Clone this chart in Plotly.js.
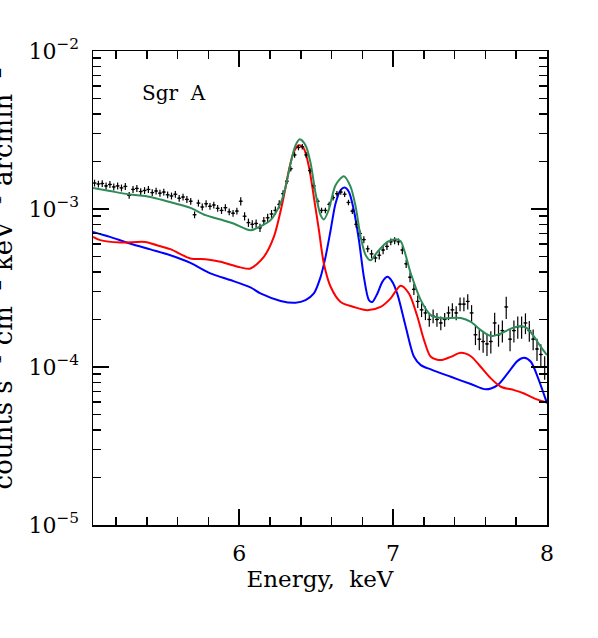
<!DOCTYPE html>
<html>
<head>
<meta charset="utf-8">
<script src="https://cdn.plot.ly/plotly-3.0.1.min.js"></script>
<style>
  body { margin: 0; background: #fff; }
  #chart_div { width: 598px; height: 638px; }
</style>
</head>
<body>
<div id="chart_div"></div>
<script>
// spectrum values are in units of 1e-3 counts s^-1 cm^-2 keV^-1 arcmin^-2
var UNIT = 1e-3;

var data_energy = [
    5.06, 5.085, 5.11, 5.135, 5.16, 5.185, 5.21, 5.235, 5.26, 5.285,
    5.31, 5.335, 5.36, 5.385, 5.41, 5.435, 5.46, 5.485, 5.51, 5.535,
    5.56, 5.585, 5.61, 5.635, 5.66, 5.685, 5.71, 5.735, 5.76, 5.785,
    5.81, 5.835, 5.86, 5.885, 5.91, 5.935, 5.96, 5.985, 6.01, 6.035,
    6.06, 6.085, 6.11, 6.135, 6.16, 6.185, 6.21, 6.235, 6.26, 6.285,
    6.31, 6.335, 6.36, 6.385, 6.41, 6.435, 6.46, 6.485, 6.51, 6.535,
    6.56, 6.585, 6.61, 6.635, 6.66, 6.685, 6.71, 6.735, 6.76, 6.785,
    6.81, 6.835, 6.86, 6.885, 6.91, 6.935, 6.96, 6.985, 7.01, 7.035,
    7.06, 7.085, 7.11, 7.135, 7.16, 7.185, 7.21, 7.235, 7.26, 7.285,
    7.31, 7.335, 7.36, 7.385, 7.41, 7.435, 7.46, 7.485, 7.51, 7.535,
    7.56, 7.585, 7.61, 7.635, 7.66, 7.685, 7.71, 7.735, 7.76, 7.785,
    7.81, 7.835, 7.86, 7.885, 7.91, 7.935, 7.96, 7.985
];
var data_flux = [
    1.46, 1.44, 1.45, 1.40, 1.43, 1.38, 1.40, 1.36, 1.39, 1.22,
    1.33, 1.35, 1.29, 1.31, 1.33, 1.27, 1.30, 1.26, 1.28, 1.23,
    1.21, 1.24, 1.17, 1.19, 1.15, 1.12, 0.92, 1.09, 1.03, 1.08,
    1.04, 1.06, 1.01, 0.98, 1.02, 0.96, 0.94, 0.97, 1.12, 0.90,
    0.82, 0.80, 0.81, 0.76, 0.84, 0.88, 0.93, 0.98, 1.07, 1.25,
    1.50, 1.80, 2.20, 2.45, 2.48, 2.20, 1.75, 1.40, 1.12, 0.98,
    0.98, 1.07, 1.18, 1.25, 1.28, 1.24, 1.10, 0.97, 0.80, 0.70,
    0.64, 0.56, 0.52, 0.49, 0.51, 0.55, 0.58, 0.62, 0.63, 0.62,
    0.55, 0.45, 0.37, 0.31, 0.26, 0.23, 0.22, 0.20, 0.21, 0.20,
    0.19, 0.20, 0.22, 0.23, 0.22, 0.25, 0.25, 0.26, 0.22, 0.16,
    0.15, 0.145, 0.14, 0.145, 0.19, 0.16, 0.17, 0.24, 0.15, 0.17,
    0.18, 0.18, 0.19, 0.17, 0.15, 0.13, 0.12, 0.10
];
// 1-sigma error, percent of the flux
var data_err_pct = [
    5, 5, 5, 5, 5, 5, 5, 5, 5, 5,
    5, 5, 5, 5, 5, 5, 5, 5, 5, 5,
    5, 5, 5, 5, 5, 5, 5, 5, 5, 5,
    5, 5, 5, 5, 5, 5, 5, 5, 6, 6,
    6, 6, 6, 6, 6, 6, 6, 6, 6, 5,
    4, 4, 4, 4, 4, 4, 4, 4, 4, 4,
    4, 4, 4, 4, 4, 4, 4, 4, 5, 5,
    5, 5, 6, 6, 6, 6, 5, 5, 5, 5,
    6, 6, 7, 8, 9, 10, 10, 10, 10, 10,
    10, 10, 10, 10, 10, 10, 10, 11, 12, 14,
    15, 15, 16, 16, 16, 16, 16, 16, 16, 16,
    16, 16, 15, 15, 15, 16, 16, 17
];

var total_energy = [
    5.05, 5.16, 5.29, 5.39, 5.49, 5.585, 5.683, 5.781, 5.878, 5.963,
    6.073, 6.14, 6.204, 6.269, 6.301, 6.334, 6.366, 6.394, 6.431, 6.464,
    6.496, 6.529, 6.55, 6.581, 6.626, 6.68, 6.724, 6.757, 6.789, 6.822,
    6.854, 6.898, 6.963, 7.017, 7.049, 7.114, 7.18, 7.245, 7.31, 7.44,
    7.505, 7.57, 7.635, 7.70, 7.765, 7.83, 7.874, 7.917, 7.96, 8.0
];
var total_flux = [
    1.36, 1.30, 1.235, 1.21, 1.148, 1.083, 1.016, 0.914, 0.858, 0.81,
    0.734, 0.778, 0.85, 1.088, 1.374, 1.95, 2.53, 2.76, 2.53, 1.95,
    1.259, 0.914, 0.858, 0.983, 1.415, 1.612, 1.38, 1.031, 0.666, 0.51,
    0.474, 0.535, 0.619, 0.644, 0.626, 0.393, 0.265, 0.213, 0.204, 0.204,
    0.193, 0.171, 0.157, 0.163, 0.175, 0.182, 0.175, 0.155, 0.134, 0.119
];

var red_energy = [
    5.05, 5.097, 5.228, 5.39, 5.466, 5.553, 5.683, 5.781, 5.878, 6.008,
    6.073, 6.16, 6.225, 6.28, 6.323, 6.355, 6.388, 6.42, 6.453, 6.485,
    6.518, 6.55, 6.594, 6.659, 6.745, 6.833, 6.919, 6.984, 7.049, 7.103,
    7.158, 7.201, 7.245, 7.31, 7.375, 7.44, 7.505, 7.57, 7.635, 7.70,
    7.786, 7.851, 7.917, 8.0
];
var red_flux = [
    0.666, 0.635, 0.614, 0.619, 0.59, 0.557, 0.486, 0.481, 0.463, 0.427,
    0.42, 0.498, 0.666, 1.084, 1.76, 2.30, 2.53, 2.41, 1.85, 1.19,
    0.734, 0.452, 0.322, 0.258, 0.240, 0.229, 0.240, 0.272, 0.327, 0.292,
    0.208, 0.148, 0.116, 0.1106, 0.116, 0.123, 0.117, 0.100, 0.0847, 0.075,
    0.0714, 0.068, 0.0633, 0.0595
];

var blue_energy = [
    5.05, 5.16, 5.29, 5.423, 5.553, 5.683, 5.813, 5.943, 6.073, 6.138,
    6.269, 6.366, 6.431, 6.485, 6.529, 6.561, 6.594, 6.626, 6.659, 6.685,
    6.713, 6.745, 6.778, 6.81, 6.843, 6.865, 6.898, 6.93, 6.963, 6.995,
    7.028, 7.082, 7.136, 7.18, 7.245, 7.375, 7.505, 7.603, 7.679, 7.744,
    7.809, 7.852, 7.895, 7.939, 8.0
];
var blue_flux = [
    0.716, 0.666, 0.605, 0.555, 0.51, 0.456, 0.391, 0.355, 0.319, 0.292,
    0.262, 0.255, 0.265, 0.292, 0.372, 0.498, 0.734, 1.084, 1.315, 1.368,
    1.283, 0.983, 0.635, 0.372, 0.265, 0.258, 0.292, 0.346, 0.372, 0.346,
    0.289, 0.18, 0.116, 0.1028, 0.0966, 0.0867, 0.078, 0.0722, 0.0768, 0.091,
    0.1094, 0.1143, 0.108, 0.0867, 0.059
];

var y_tick_vals = [1e-5, 1e-4, 1e-3, 1e-2];
var y_tick_text = ['10<sup>\u22125</sup>', '10<sup>\u22124</sup>', '10<sup>\u22123</sup>', '10<sup>\u22122</sup>'];

var FONT = 'DejaVu Serif, serif';

function scaled(list)
{
    return list.map(function (v) { return v * UNIT; });
}

function create_model_line(energy, flux, color, name)
{
    return {
        x: energy,
        y: scaled(flux),
        mode: 'lines',
        line: {color: color, width: 2, shape: 'spline', smoothing: 0.8},
        name: name,
        hoverinfo: 'skip'
    };
}

function create_data_trace()
{
    var flux = scaled(data_flux);
    var err = flux.map(function (v, i) { return v * data_err_pct[i] / 100; });
    return {
        x: data_energy,
        y: flux,
        mode: 'markers',
        marker: {color: 'black', size: 2},
        error_y: {type: 'data', array: err, visible: true, color: 'black', thickness: 1.2, width: 0},
        error_x: {type: 'constant', value: 0.0125, visible: true, color: 'black', thickness: 1.2, width: 0},
        name: 'Data'
    };
}

function create_layout()
{
    var axis_common = {
        showline: true,
        linecolor: 'black',
        linewidth: 1.5,
        mirror: 'allticks',
        ticks: 'inside',
        tickcolor: 'black',
        tickwidth: 1.5,
        showgrid: false,
        zeroline: false,
        tickfont: {family: FONT, size: 22, color: 'black'}
    };

    var xaxis = Object.assign({}, axis_common, {
        range: [5.05, 8.0],
        tickmode: 'array',
        tickvals: [6, 7, 8],
        ticklen: 16,
        ticklabelstandoff: 8,
        minor: {dtick: 0.2, tick0: 5, ticks: 'inside', ticklen: 8, tickcolor: 'black', tickwidth: 1.5},
        title: {text: 'Energy,  keV', font: {family: FONT, size: 23, color: 'black'}, standoff: 6}
    });

    var yaxis = Object.assign({}, axis_common, {
        type: 'log',
        range: [-5, -2],
        tickmode: 'array',
        tickvals: y_tick_vals,
        ticktext: y_tick_text,
        ticklen: 16,
        ticklabelstandoff: 8,
        minor: {dtick: 'D1', ticks: 'inside', ticklen: 8, tickcolor: 'black', tickwidth: 1.5}
    });

    return {
        width: 598,
        height: 638,
        margin: {l: 93, r: 51, t: 51, b: 113},
        paper_bgcolor: 'white',
        plot_bgcolor: 'white',
        showlegend: false,
        xaxis: xaxis,
        yaxis: yaxis,
        annotations: [
            {
                text: 'Sgr  A',
                xref: 'paper', yref: 'paper',
                x: 0.103, y: 0.911,
                xanchor: 'left', yanchor: 'middle',
                showarrow: false,
                font: {family: FONT, size: 20, color: 'black'}
            },
            {
                // the reference crops this title at the left edge of the figure
                text: 'counts s<sup>\u22121</sup> cm<sup>\u22122</sup> keV<sup>\u22121</sup> arcmin<sup>\u22122</sup>',
                xref: 'paper', yref: 'paper',
                x: -0.203, y: 0.522,
                xanchor: 'center', yanchor: 'middle',
                textangle: -90,
                showarrow: false,
                font: {family: FONT, size: 26, color: 'black'}
            }
        ]
    };
}

var traces = [
    create_model_line(blue_energy, blue_flux, 'rgb(0, 0, 255)', 'Component 2'),
    create_model_line(red_energy, red_flux, 'rgb(255, 0, 0)', 'Component 1'),
    create_data_trace(),
    create_model_line(total_energy, total_flux, 'rgb(46, 139, 87)', 'Total')
];

Plotly.newPlot('chart_div', traces, create_layout(), {staticPlot: true});
</script>
</body>
</html>
